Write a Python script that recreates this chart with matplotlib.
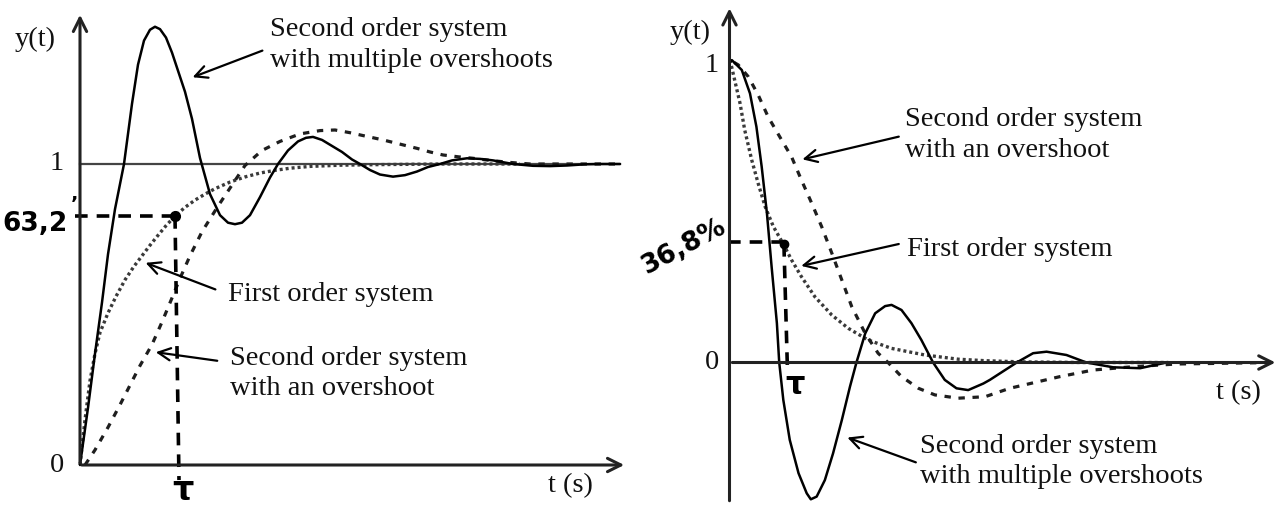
import numpy as np
import matplotlib.pyplot as plt

plt.rcParams['font.family'] = ['Liberation Serif', 'DejaVu Serif']

# ---- step response (left) ----
step_multi_t = [0, 0.08, 0.15, 0.22, 0.28, 0.35, 0.44, 0.52, 0.58, 0.64, 0.70, 0.75, 0.80,
                0.86, 0.92, 0.98, 1.05, 1.12, 1.20, 1.30, 1.40, 1.48, 1.55, 1.62, 1.70,
                1.80, 1.90, 1.98, 2.08, 2.18, 2.26, 2.33, 2.42, 2.52, 2.62, 2.72, 2.80,
                2.90, 3.00, 3.13, 3.25, 3.37, 3.48, 3.60, 3.72, 3.87, 4.00, 4.13, 4.33,
                4.53, 4.70, 4.87, 5.05, 5.20, 5.40]
step_multi_y = [0, 0.19, 0.37, 0.54, 0.70, 0.85, 1.00, 1.20, 1.33, 1.41, 1.446, 1.456, 1.448,
                1.42, 1.37, 1.31, 1.24, 1.15, 1.02, 0.90, 0.83, 0.805, 0.80, 0.805, 0.83,
                0.89, 0.955, 1.00, 1.045, 1.075, 1.087, 1.09, 1.08, 1.06, 1.04, 1.015, 1.00,
                0.98, 0.965, 0.958, 0.963, 0.975, 0.99, 1.00, 1.012, 1.019, 1.017, 1.012, 1.00,
                0.994, 0.993, 0.995, 0.999, 1.00, 1.00]

step_first_t = [0, 0.05, 0.10, 0.15, 0.20, 0.28, 0.36, 0.45, 0.54, 0.62, 0.70, 0.78, 0.86,
                0.95, 1.05, 1.15, 1.25, 1.35, 1.50, 1.65, 1.80, 1.95, 2.10, 2.30, 2.60,
                3.00, 3.60, 4.40]
step_first_y = [0, 0.15, 0.28, 0.37, 0.44, 0.505, 0.56, 0.615, 0.66, 0.695, 0.73, 0.763, 0.795,
                0.827, 0.856, 0.88, 0.90, 0.918, 0.94, 0.957, 0.97, 0.979, 0.986, 0.992, 0.996,
                0.998, 1.00, 1.00]

step_over_t = [0.05, 0.15, 0.28, 0.40, 0.50, 0.60, 0.72, 0.82, 0.92, 1.00, 1.10, 1.22, 1.38,
               1.50, 1.65, 1.82, 2.00, 2.20, 2.40, 2.55, 2.70, 2.85, 3.03, 3.20, 3.37,
               3.50, 3.63, 3.78, 3.93, 4.10, 4.27, 4.50, 5.35]
step_over_y = [0, 0.05, 0.125, 0.20, 0.265, 0.33, 0.40, 0.475, 0.555, 0.62, 0.695, 0.775, 0.86,
               0.92, 0.995, 1.045, 1.075, 1.10, 1.111, 1.113, 1.104, 1.093, 1.08, 1.066, 1.052,
               1.04, 1.03, 1.024, 1.019, 1.012, 1.006, 1.00, 1.00]

step_tau = 0.95
step_mark = 0.827

# ---- decay response (right) ----
dec_multi_t = [0, 0.04, 0.21, 0.35, 0.46, 0.55, 0.64, 0.72, 0.81, 0.85, 0.92, 1.03, 1.18,
               1.32, 1.39, 1.49, 1.63, 1.77, 1.92, 2.06, 2.17, 2.32, 2.49, 2.66, 2.77,
               2.94, 3.11, 3.28, 3.48, 3.68, 3.88, 4.08, 4.34, 4.45, 4.91, 5.19, 5.42,
               5.76, 6.10, 6.56, 7.02, 7.47, 7.93]
dec_multi_y = [1.0, 1.008, 0.975, 0.897, 0.786, 0.653, 0.497, 0.319, 0.131, 0, -0.125, -0.258,
               -0.369, -0.436, -0.456, -0.447, -0.392, -0.303, -0.192, -0.08, 0, 0.097, 0.164,
               0.188, 0.192, 0.175, 0.131, 0.075, 0, -0.058, -0.086, -0.092, -0.07, -0.058, 0,
               0.031, 0.036, 0.025, 0, -0.016, -0.019, 0, 0]

dec_first_t = [0.01, 0.09, 0.18, 0.26, 0.38, 0.49, 0.61, 0.75, 0.92, 1.06, 1.23, 1.46, 1.75,
               2.03, 2.37, 2.77, 3.34, 3.91, 4.37, 5.00, 6.00, 7.50]
dec_first_y = [1.008, 0.94, 0.864, 0.775, 0.675, 0.597, 0.519, 0.453, 0.395, 0.342, 0.286,
               0.219, 0.158, 0.114, 0.075, 0.047, 0.025, 0.011, 0.006, 0.002, 0, 0]

dec_over_t = [0.08, 0.15, 0.32, 0.49, 0.66, 0.89, 1.06, 1.23, 1.405, 1.575, 1.75, 1.92, 2.09,
              2.32, 2.54, 2.71, 2.94, 3.23, 3.51, 3.91, 4.37, 4.79, 5.65, 6.22, 6.90, 7.64,
              9.30]
dec_over_y = [1.0, 0.992, 0.953, 0.892, 0.819, 0.742, 0.686, 0.608, 0.531, 0.453, 0.364, 0.275,
              0.186, 0.097, 0.031, 0, -0.047, -0.086, -0.108, -0.119, -0.114, -0.086, -0.047,
              -0.025, -0.014, -0.005, 0]

dec_tau = 0.93
dec_mark = 0.395

lbl_multi = 'Second order system\nwith multiple overshoots'
lbl_over = 'Second order system\nwith an overshoot'
lbl_first = 'First order system'

W, H = 1281, 515
fig = plt.figure(figsize=(W / 100, H / 100), dpi=100)

# both panels are laid out in pixel units so the axes sit where they should
axL = fig.add_axes([0, 0, 640 / W, 1])
axL.set_xlim((0 - 80) / 100, (640 - 80) / 100)
axL.set_ylim((465 - 515) / 301, 465 / 301)
axR = fig.add_axes([640 / W, 0, 641 / W, 1])
axR.set_xlim((640 - 729.5) / 58.5, (1281 - 729.5) / 58.5)
axR.set_ylim((362.5 - 515) / 300, 362.5 / 300)

solid = dict(color='black', lw=1.8, solid_capstyle='round')
dotted = dict(color='#3a3a3a', lw=2.4, linestyle=(0, (0.9, 0.9)))
dashed = dict(color='#1e1e1e', lw=2.3, linestyle=(0, (2.0, 2.4)))
hand = dict(color='black', lw=2.6, linestyle=(0, (3.5, 2.5)))
txt = dict(fontsize=20.5, color='#111111')
arrow = dict(arrowstyle='->', lw=1.6, color='black', mutation_scale=22)
axis_arrow = dict(arrowstyle='->', lw=2.2, color='#222222', mutation_scale=24)

for ax in (axL, axR):
    ax.axis('off')

# left: axes, reference level and curves
axL.annotate('', xy=(0, 1.505), xytext=(0, -0.002), arrowprops=axis_arrow)
axL.annotate('', xy=(5.47, 0), xytext=(-0.01, 0), arrowprops=axis_arrow)
axL.plot([0, 5.40], [1, 1], color='#444444', lw=1.6)
axL.plot(step_first_t, step_first_y, **dotted)
axL.plot(step_over_t, step_over_y, **dashed)
axL.plot(step_multi_t, step_multi_y, **solid)

axL.plot([-0.05, step_tau], [step_mark, step_mark], **hand)
axL.plot([step_tau, step_tau + 0.04], [step_mark, -0.05], **hand)
axL.plot(step_tau, step_mark, 'o', color='black', ms=7)

axL.text(-0.23, 0.0, '0', ha='center', va='center', **txt)
axL.text(-0.23, 1.0, '1', ha='center', va='center', **txt)
axL.text(-0.45, 1.415, 'y(t)', ha='center', va='center', **txt)
axL.text(4.9, -0.07, 't (s)', ha='center', va='center', **txt)
axL.text(1.03, -0.085, 'τ', ha='center', va='center', fontsize=24,
         family=['DejaVu Sans'], fontweight='bold')
axL.text(-0.45, 0.80, '63,2', ha='center', va='center', fontsize=19,
         family=['DejaVu Sans'], fontweight='bold')
axL.text(-0.095, 0.835, 'ʼ', ha='left', va='bottom', fontsize=14,
         family=['DejaVu Sans'], fontweight='bold')

axL.text(1.9, 1.395, lbl_multi, ha='left', va='center', linespacing=1.3, **txt)
axL.annotate('', xy=(1.10, 1.285), xytext=(1.85, 1.38), arrowprops=arrow)
axL.text(1.48, 0.565, lbl_first, ha='left', va='center', **txt)
axL.annotate('', xy=(0.63, 0.675), xytext=(1.38, 0.58), arrowprops=arrow)
axL.text(1.5, 0.304, lbl_over, ha='left', va='center', linespacing=1.3, **txt)
axL.annotate('', xy=(0.73, 0.376), xytext=(1.40, 0.345), arrowprops=arrow)

# right: axes and curves
axR.annotate('', xy=(0, 1.19), xytext=(0, -0.47), arrowprops=axis_arrow)
axR.annotate('', xy=(9.38, 0), xytext=(0, 0), arrowprops=axis_arrow)
axR.plot(dec_first_t, dec_first_y, **dotted)
axR.plot(dec_over_t, dec_over_y, **dashed)
axR.plot(dec_multi_t, dec_multi_y, **solid)

axR.plot([-0.02, dec_tau], [dec_mark + 0.005, dec_mark + 0.005], **hand)
axR.plot([dec_tau, dec_tau + 0.06], [dec_mark, -0.02], **hand)
axR.plot(dec_tau, dec_mark, 'o', color='black', ms=6)

axR.text(-0.30, 0.0, '0', ha='center', va='center', **txt)
axR.text(-0.30, 0.99, '1', ha='center', va='center', **txt)
axR.text(-0.68, 1.10, 'y(t)', ha='center', va='center', **txt)
axR.text(8.7, -0.10, 't (s)', ha='center', va='center', **txt)
axR.text(1.12, -0.075, 'τ', ha='center', va='center', fontsize=22,
         family=['DejaVu Sans'], fontweight='bold')
axR.text(-0.78, 0.385, '36,8%', ha='center', va='center', fontsize=19, rotation=28,
         family=['DejaVu Sans'], fontweight='bold')

axR.text(3.0, 0.758, lbl_over, ha='left', va='center', linespacing=1.3, **txt)
axR.annotate('', xy=(1.20, 0.675), xytext=(2.94, 0.755), arrowprops=arrow)
axR.text(3.03, 0.375, lbl_first, ha='left', va='center', **txt)
axR.annotate('', xy=(1.18, 0.32), xytext=(2.94, 0.397), arrowprops=arrow)
axR.text(3.26, -0.33, lbl_multi, ha='left', va='center', linespacing=1.3, **txt)
axR.annotate('', xy=(1.97, -0.247), xytext=(3.23, -0.336), arrowprops=arrow)

fig.savefig('out.png', dpi=100)
